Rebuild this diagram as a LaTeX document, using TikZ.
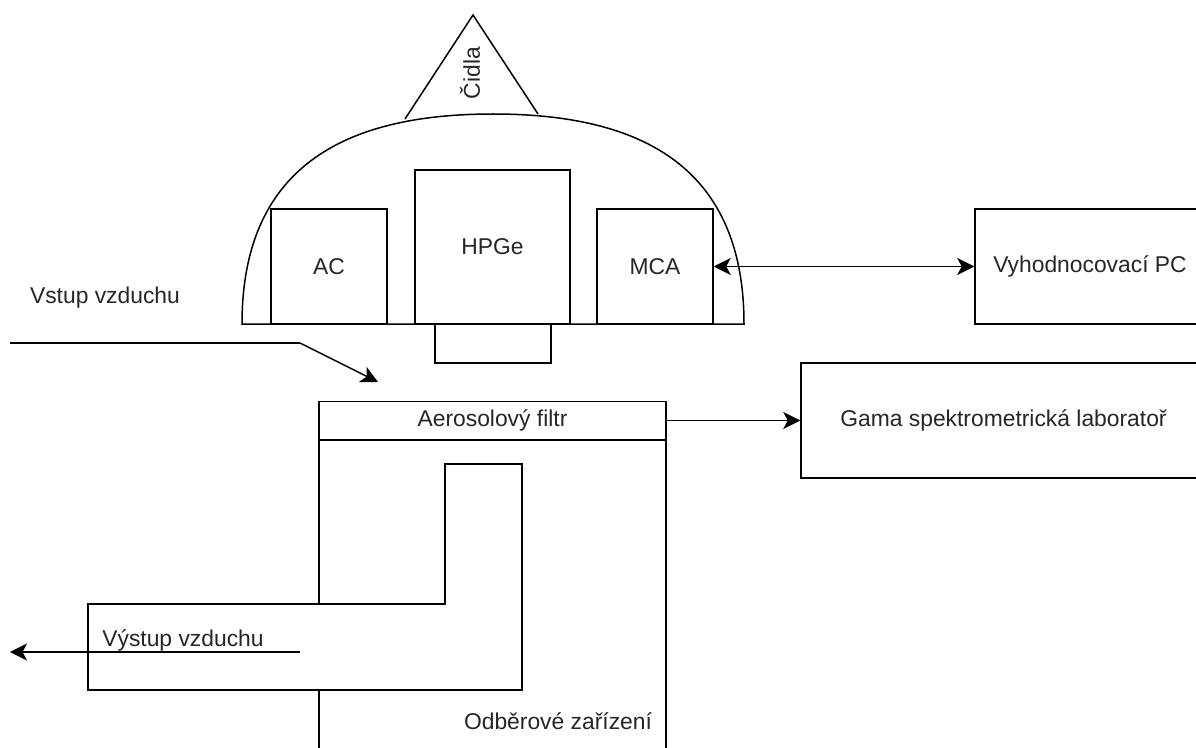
\documentclass[tikz,border=0pt]{standalone}
\usepackage{fontspec}
\setmainfont{Liberation Sans}
\usetikzlibrary{arrows.meta}
\tikzset{
  box/.style={draw=black, fill=white, line width=0.3mm, inner sep=0pt, text=black!85},
  label/.style={inner sep=0pt, text=black!85},
  flow/.style={draw=black, line width=0.3mm, -{Stealth[length=3.4mm, width=3.4mm, inset=0.9mm]}},
  every node/.append style={font=\fontsize{13}{15}\selectfont}
}
\begin{document}
\begin{tikzpicture} [scale = 1]
\useasboundingbox (0, 0) rectangle (23.92, 14.94);
\clip (0, 0) rectangle (23.92, 14.94);
% detector housing
\draw[black, line width=0.3mm] (4.84, 8.46) .. controls (4.84, 11.74) and (7.08, 12.66) .. (9.86, 12.66) .. controls (12.64, 12.66) and (14.88, 11.74) .. (14.88, 8.46) -- cycle;
\draw[black, line width=0.3mm] (8.1, 12.56) -- (9.46, 14.64) -- (10.76, 12.66);
\node[label, rotate=90] (cidla) at (9.4, 13.48){Čidla};
\node[box, minimum width=2.32cm, minimum height=2.3cm] (ac) at (6.58, 9.61){AC};
\node[box, minimum width=3.1cm, minimum height=3.08cm] (hpge) at (9.85, 10.0){HPGe};
\node[box, minimum width=2.32cm, minimum height=2.3cm] (mca) at (13.1, 9.61){MCA};
\node[box, minimum width=2.32cm, minimum height=0.78cm] (window) at (9.86, 8.07){};
% right hand boxes
\node[box, minimum width=4.6cm, minimum height=2.3cm] (pc) at (21.8, 9.61){Vyhodnocovací PC};
\node[box, minimum width=8.1cm, minimum height=2.3cm] (lab) at (20.07, 6.53){Gama spektrometrická laboratoř};
% sampler
\draw[black, fill=white, line width=0.3mm] (6.38, 6.14) rectangle (13.32, -1);
\node[box, minimum width=6.94cm, minimum height=0.76cm] (filtr) at (9.85, 6.53){Aerosolový filtr};
\draw[black, fill=white, line width=0.3mm] (8.9, 5.66) -- (10.44, 5.66) -- (10.44, 1.14) -- (1.76, 1.14) -- (1.76, 2.86) -- (8.9, 2.86) -- cycle;
\node[label] (odber) at (11.16, 0.52){Odběrové zařízení};
\node[label] (vystup) at (3.66, 2.14){Výstup vzduchu};
\node[label] (vstup) at (2.1, 8.98){Vstup vzduchu};
% air flow
\coordinate (inA) at (0.2, 8.08);
\coordinate (inB) at (6.0, 8.08);
\coordinate (inC) at (7.56, 7.3);
\coordinate (outA) at (6.0, 1.9);
\coordinate (outB) at (0.2, 1.9);
\draw[black, line width=0.3mm] (inA) -- (inB);
\draw[flow] (inB) -- (inC);
\draw[flow] (outA) -- (outB);
\draw[flow] (filtr) -- (lab);
\draw[flow, {Stealth[length=3.4mm, width=3.4mm, inset=0.9mm]}-{Stealth[length=3.4mm, width=3.4mm, inset=0.9mm]}] (mca) -- (pc);
\end{tikzpicture}
\end{document}
